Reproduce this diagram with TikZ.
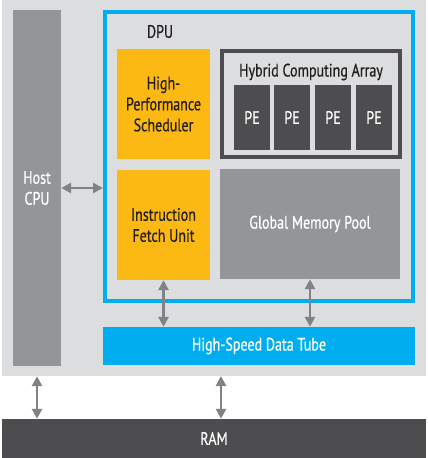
\documentclass[tikz,border=0pt]{standalone}
\usepackage{fontspec}
\setmainfont[FakeStretch=0.78,FakeBold=0.6]{PT Sans}
\usetikzlibrary{arrows.meta}
\definecolor{bgc}{HTML}{DCDDDE}
\definecolor{cpu}{HTML}{939598}
\definecolor{org}{HTML}{FDB913}
\definecolor{blu}{HTML}{00AEEF}
\definecolor{drk}{HTML}{4D4D4F}
\definecolor{arrc}{HTML}{808285}
\definecolor{txt}{HTML}{231F20}
\begin{document}
\begin{tikzpicture}[x=1pt,y=-1pt,
  box/.style={inner sep=0pt, align=center, font=\fontsize{18}{21}\selectfont},
  conn/.style={draw=arrc, line width=2.8pt, {Triangle[length=10pt,width=10pt]}-{Triangle[length=10pt,width=10pt]}}]
\useasboundingbox (0,0) rectangle (428,458);
\node[box, fill=bgc, minimum width=424pt, minimum height=376pt] (bg) at (214,188) {};
\node[box, fill=cpu, text=white, minimum width=48pt, minimum height=356pt] (host) at (37,188) {Host\\CPU};
\node[box, draw=blu, line width=4pt, minimum width=308pt, minimum height=289pt] (dpu) at (259,156.5) {};
\node[box, text=txt] (dpulabel) at (160,31.5) {DPU};
\node[box, fill=org, text=txt, minimum width=93pt, minimum height=110pt] (sched) at (163.5,104) {High-\\Performance\\Scheduler};
\node[box, fill=org, text=txt, minimum width=93pt, minimum height=110pt] (fetch) at (163.5,225) {Instruction\\Fetch Unit};
\node[box, draw=drk, line width=4pt, minimum width=178pt, minimum height=106pt] (hca) at (311,104) {};
\node[box, text=txt] (hcalabel) at (311,72) {Hybrid Computing Array};
\foreach \i/\x in {1/252,2/292,3/333,4/374}
  \node[box, fill=drk, text=white, minimum width=36pt, minimum height=65pt] (pe\i) at (\x,117.5) {PE};
\node[box, fill=cpu, text=white, minimum width=180pt, minimum height=110pt] (gmp) at (310,224) {Global Memory Pool};
\node[box, fill=blu, text=white, minimum width=312pt, minimum height=38pt] (tube) at (259,346) {High-Speed Data Tube};
\node[box, fill=drk, text=white, minimum width=424pt, minimum height=39pt] (ram) at (214,438.5) {RAM};
\coordinate (t) at (221,376);
\draw[conn] (host.east) -- (dpu.west |- host.east);
\draw[conn] (fetch.south) -- (tube.north -| fetch.south);
\draw[conn] (gmp.south) -- (tube.north -| gmp.south);
\draw[conn] (bg.south -| host.south) -- (ram.north -| host.south);
\draw[conn] (t) -- (ram.north -| t);
\end{tikzpicture}
\end{document}
